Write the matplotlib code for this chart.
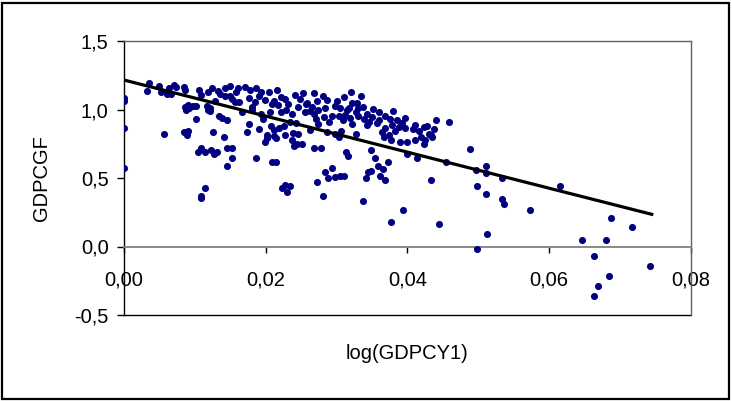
import numpy as np
import matplotlib
matplotlib.use("Agg")
import matplotlib.pyplot as plt
from matplotlib.ticker import FuncFormatter, FixedLocator
from matplotlib.patches import Rectangle

plt.rcParams['font.family'] = ['Liberation Sans', 'DejaVu Sans']

# points (x = log(GDPCY1), y = GDPCGR)
x_vals = [
    0.0, 0.0, 0.0, 0.0,
    0.0035, 0.0033, 0.0050, 0.0052, 0.0064, 0.0070, 0.0074, 0.0084, 0.0086, 0.0061, 0.0067,
    0.0106, 0.0108, 0.0119, 0.0124, 0.0132, 0.0136, 0.0143, 0.0149, 0.0142, 0.0149, 0.0152, 0.0156,
    0.0086, 0.0091, 0.0098, 0.0101, 0.0088, 0.0092, 0.0117, 0.0121, 0.0118, 0.0121,
    0.0101, 0.0134, 0.0138, 0.0145, 0.0056, 0.0084, 0.0091, 0.0089, 0.0126, 0.0141,
    0.0104, 0.0109, 0.0115, 0.0123, 0.0127, 0.0131, 0.0145, 0.0152, 0.0152, 0.0146, 0.0115, 0.0109,
    0.0199, 0.0202, 0.0215, 0.0237, 0.0240, 0.0244, 0.0251, 0.0268, 0.0278, 0.0186, 0.0209, 0.0214,
    0.0314, 0.0316, 0.0284, 0.0293, 0.0288, 0.0298, 0.0305, 0.0310, 0.0273, 0.0223, 0.0227, 0.0234,
    0.0230, 0.0281,
    0.0349, 0.0355, 0.0372, 0.0358, 0.0366, 0.0344, 0.0349, 0.0361, 0.0341, 0.0369, 0.0434, 0.0338,
    0.0400, 0.0414, 0.0455, 0.0367, 0.0377, 0.0389, 0.0400, 0.0411, 0.0423, 0.0425, 0.0435, 0.0434,
    0.0108, 0.0377, 0.0394, 0.0445,
    0.0488, 0.0497, 0.0511, 0.0511, 0.0533, 0.0499, 0.0511, 0.0533, 0.0536, 0.0573, 0.0615, 0.0513,
    0.0499, 0.0646, 0.0680, 0.0688, 0.0717, 0.0663, 0.0685, 0.0669, 0.0663, 0.0743,
    0.0161, 0.0171, 0.0178, 0.0187, 0.0194, 0.0204, 0.0216, 0.0227, 0.0241, 0.0249, 0.0268, 0.0273,
    0.0286, 0.0310, 0.0320,
    0.0163, 0.0176, 0.0185, 0.0199, 0.0209, 0.0218, 0.0232, 0.0246, 0.0257, 0.0265, 0.0274, 0.0284,
    0.0298, 0.0305, 0.0317, 0.0322,
    0.0166, 0.0180, 0.0194, 0.0206, 0.0221, 0.0237, 0.0255, 0.0268, 0.0282, 0.0293, 0.0303, 0.0312,
    0.0319,
    0.0176, 0.0191, 0.0207, 0.0212, 0.0219, 0.0226, 0.0235, 0.0202, 0.0212, 0.0227, 0.0238, 0.0246,
    0.0262, 0.0274, 0.0287, 0.0298, 0.0307, 0.0304, 0.0173,
    0.0335, 0.0331, 0.0337, 0.0327, 0.0331, 0.0343, 0.0351, 0.0360, 0.0350, 0.0346, 0.0360, 0.0369,
    0.0380, 0.0375, 0.0385, 0.0397, 0.0393, 0.0378, 0.0369, 0.0364, 0.0374, 0.0383, 0.0397, 0.0411,
    0.0423, 0.0428, 0.0416, 0.0430, 0.0440, 0.0459, 0.0343, 0.0322, 0.0327,
    # denser core of the cloud
    0.0190, 0.0221, 0.0252, 0.0281, 0.0212, 0.0259, 0.0301, 0.0329, 0.0181, 0.0229, 0.0271, 0.0309,
    0.0339, 0.0357, 0.0388, 0.0408, 0.0438, 0.0419, 0.0158, 0.0128, 0.0196, 0.0243, 0.0290, 0.0262,
    0.0315,
]
y_vals = [
    1.085, 1.060, 0.867, 0.575,
    1.193, 1.135, 1.174, 1.130, 1.155, 1.179, 1.164, 1.164, 1.140, 1.115, 1.115,
    1.145, 1.106, 1.130, 1.155, 1.135, 1.111, 1.155, 1.174, 1.096, 1.101, 1.077, 1.057,
    1.018, 1.033, 1.028, 1.023, 0.999, 1.009, 1.023, 1.009, 0.999, 0.989,
    0.931, 0.950, 0.940, 0.926, 0.823, 0.834, 0.843, 0.814, 0.838, 0.799,
    0.692, 0.721, 0.692, 0.707, 0.677, 0.692, 0.721, 0.721, 0.648, 0.590, 0.429, 0.371,
    0.765, 0.790, 0.794, 0.780, 0.731, 0.746, 0.750, 0.721, 0.721, 0.648, 0.619, 0.619,
    0.692, 0.663, 0.546, 0.575, 0.502, 0.507, 0.517, 0.517, 0.473, 0.429, 0.449, 0.444,
    0.400, 0.371,
    0.707, 0.648, 0.619, 0.590, 0.566, 0.546, 0.551, 0.517, 0.502, 0.488, 0.488, 0.332,
    0.677, 0.648, 0.619, 0.799, 0.775, 0.765, 0.765, 0.780, 0.746, 0.775, 0.799, 0.814,
    0.354, 0.181, 0.269, 0.166,
    0.710, 0.560, 0.590, 0.540, 0.500, 0.440, 0.385, 0.345, 0.310, 0.270, 0.440, 0.093,
    -0.020, 0.050, 0.050, 0.210, 0.140, -0.070, -0.215, -0.285, -0.360, -0.140,
    1.155, 1.164, 1.140, 1.155, 1.130, 1.130, 1.140, 1.077, 1.106, 1.077, 1.120, 1.062,
    1.067, 1.091, 1.126,
    1.057, 1.082, 1.057, 1.067, 1.042, 1.033, 1.042, 1.018, 1.038, 1.018, 0.999, 1.009,
    1.028, 1.009, 1.009, 1.047,
    0.984, 0.994, 0.969, 0.984, 0.984, 0.969, 0.984, 0.969, 0.945, 0.950, 0.950, 0.960,
    0.940,
    0.896, 0.858, 0.882, 0.848, 0.863, 0.882, 0.911, 0.814, 0.804, 0.814, 0.828, 0.819,
    0.848, 0.896, 0.838, 0.823, 0.843, 0.799, 0.838,
    1.101, 1.009, 1.018, 0.984, 0.950, 0.969, 1.004, 0.984, 0.945, 0.911, 0.926, 0.950,
    0.989, 0.931, 0.921, 0.940, 0.901, 0.887, 0.863, 0.834, 0.814, 0.843, 0.867, 0.887,
    0.872, 0.882, 0.843, 0.823, 0.926, 0.911, 0.887, 0.896, 0.823,
    1.100, 1.090, 1.120, 1.100, 1.060, 1.050, 1.060, 1.050, 1.020, 1.000, 0.930, 0.920,
    0.930, 0.900, 0.870, 0.860, 0.860, 0.800, 1.130, 1.060, 0.930, 0.900, 0.910, 0.990,
    1.000,
]

# fitted trend line end points
fit_x = [0.0, 0.0745]
fit_y = [1.215, 0.235]

x_ticks = [0.0, 0.02, 0.04, 0.06, 0.08]
y_ticks = [-0.5, 0.0, 0.5, 1.0, 1.5]

fig = plt.figure(figsize=(7.32, 4.01), dpi=100)
ax = fig.add_axes([124 / 732, 86 / 401, 566.7 / 732, 274 / 401])

ax.scatter(x_vals, y_vals, s=26, color='#000080', linewidths=0, zorder=3)
ax.plot(fit_x, fit_y, color='black', lw=2.3, zorder=4)

ax.set_xlim(0, 0.08)
ax.set_ylim(-0.5, 1.5)

ax.xaxis.set_major_locator(FixedLocator(x_ticks))
ax.yaxis.set_major_locator(FixedLocator(y_ticks))
ax.xaxis.set_major_formatter(FuncFormatter(lambda v, p: f"{v:.2f}".replace('.', ',')))
ax.yaxis.set_major_formatter(FuncFormatter(lambda v, p: f"{v:.1f}".replace('.', ',')))

# x axis crosses at y = 0
ax.spines['bottom'].set_position(('data', 0))
ax.spines['bottom'].set_color('#808080')
ax.spines['bottom'].set_linewidth(1.3)
ax.spines['left'].set_color('black')
ax.spines['left'].set_linewidth(1.0)
for s in ('top', 'right'):
    ax.spines[s].set_color('#606060')
    ax.spines[s].set_linewidth(1.0)
# bottom edge of plot area
ax.plot([0, 1], [0, 0], transform=ax.transAxes, color='black', lw=1.0, clip_on=False)

ax.tick_params(axis='x', direction='out', length=4, width=1, color='black', pad=13, labelsize=14.5)
ax.tick_params(axis='y', direction='out', length=5, width=1, color='black', pad=6, labelsize=14.5)

ax.set_xlabel('log(GDPCY1)', fontsize=14.5)
ax.set_ylabel('GDPCGF', fontsize=14.5)
ax.xaxis.set_label_coords(0.5, -0.142)
ax.xaxis.label.set_va('center')
ax.yaxis.set_label_coords(-0.145, 0.5)
ax.yaxis.label.set_va('center')

fig.patches.append(Rectangle((2 / 732, 2 / 401), 727 / 732, 396 / 401, transform=fig.transFigure,
                             fill=False, edgecolor='black', lw=1.6))

fig.savefig('out.png', dpi=100)
